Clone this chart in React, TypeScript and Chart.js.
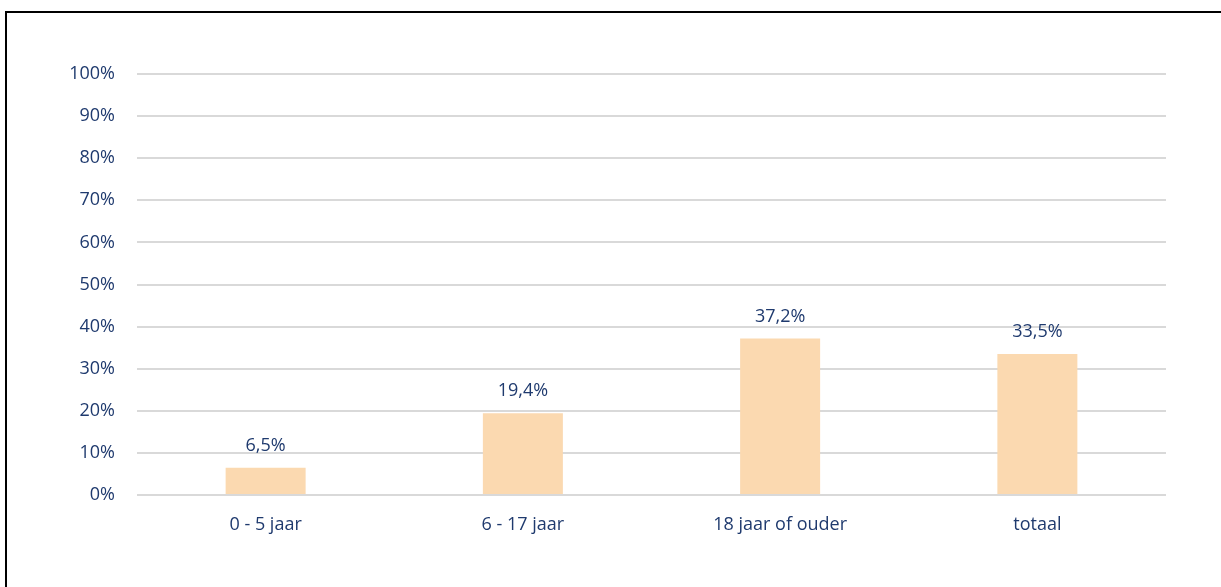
import React, { useEffect, useRef } from "react";
import { Chart, registerables } from "chart.js";

Chart.register(...registerables);

const categories = ["0 - 5 jaar", "6 - 17 jaar", "18 jaar of ouder", "totaal"];
const values = [6.5, 19.4, 37.2, 33.5];
const valueLabels = ["6,5%", "19,4%", "37,2%", "33,5%"];
const yTicks = [0, 10, 20, 30, 40, 50, 60, 70, 80, 90, 100];

const NAVY = "#1f3a6e";
const FONT = "'Open Sans', 'Noto Sans', sans-serif";

const valueLabelPlugin = {
  id: "valueLabels",
  afterDatasetsDraw(chart: any) {
    const ctx = chart.ctx;
    const meta = chart.getDatasetMeta(0);
    ctx.save();
    ctx.fillStyle = NAVY;
    ctx.font = `18px ${FONT}`;
    ctx.textAlign = "center";
    ctx.textBaseline = "middle";
    meta.data.forEach((bar: any, i: number) => {
      ctx.fillText(valueLabels[i], bar.x, bar.y - 22);
    });
    ctx.restore();
  },
};

const framePlugin = {
  id: "frame",
  beforeDraw(chart: any) {
    const ctx = chart.ctx;
    ctx.save();
    ctx.fillStyle = "#000";
    ctx.fillRect(5, 11, chart.width - 5, 2);
    ctx.fillRect(5, 11, 2, chart.height - 11);
    ctx.restore();
  },
};

export default function App() {
  const ref = useRef<HTMLCanvasElement>(null);
  useEffect(() => {
    document.body.style.margin = "0";
    document.body.style.overflow = "hidden";
    const chart = new Chart(ref.current!, {
      type: "bar",
      data: {
        labels: categories,
        datasets: [
          {
            data: values,
            backgroundColor: "#fbd9b0",
            barPercentage: 0.311,
            categoryPercentage: 1,
          },
        ],
      },
      options: {
        animation: false,
        responsive: false,
        maintainAspectRatio: false,
        layout: { padding: { left: 0, right: 55, top: 74, bottom: 0 } },
        plugins: {
          legend: { display: false },
          tooltip: { enabled: false },
        },
        scales: {
          x: {
            grid: { display: false, drawTicks: false },
            border: { display: false },
            ticks: {
              color: NAVY,
              font: { family: FONT, size: 18 },
              padding: 19,
            },
            afterFit: (s: any) => {
              s.height = 92;
            },
          },
          y: {
            min: 0,
            max: 100,
            afterBuildTicks: (s: any) => {
              s.ticks = yTicks.map((v) => ({ value: v }));
            },
            grid: { color: "#d9d9d9", lineWidth: 2, drawTicks: false },
            border: { display: false },
            ticks: {
              color: NAVY,
              font: { family: FONT, size: 18 },
              padding: 22,
              callback: (v: any) => `${v}%`,
            },
            afterFit: (s: any) => {
              s.width = 137;
            },
          },
        },
      },
      plugins: [framePlugin, valueLabelPlugin],
    });
    return () => chart.destroy();
  }, []);

  return (
    <div style={{ position: "relative", width: 1221, height: 587, background: "#fff", overflow: "hidden" }}>
      <canvas ref={ref} width={1221} height={587} style={{ position: "absolute", left: 0, top: 0 }} />
    </div>
  );
}
